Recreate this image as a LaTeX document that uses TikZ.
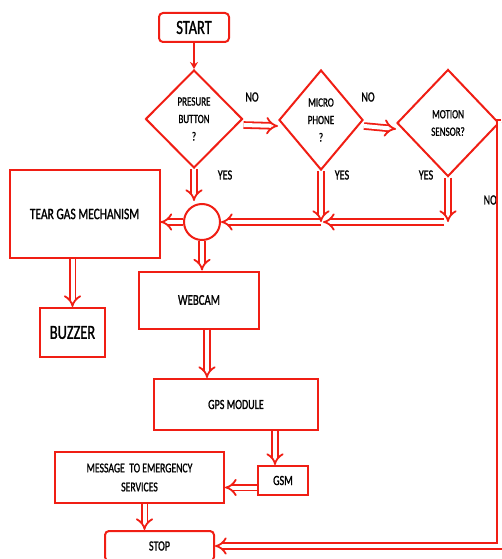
\documentclass[tikz,border=0pt]{standalone}
\usepackage{fontspec}
\setmainfont{Carlito}[FakeStretch=0.72,FakeBold=1.2]
\usetikzlibrary{shapes.geometric,arrows.meta}
\definecolor{mred}{RGB}{240,30,20}
\begin{document}
\begin{tikzpicture}[x=1pt,y=-1pt,
  box/.style={draw=mred, line width=2pt, rectangle, inner sep=0pt, align=center, text=black},
  rbox/.style={box, rounded corners=4pt},
  dia/.style={draw=mred, line width=2pt, diamond, inner sep=0pt, align=center, text=black,
              font=\fontsize{12.5}{17.5}\selectfont},
  dar/.style={draw=mred, line width=1.8pt, double=white, double distance=4pt, -{Implies}},
  sar/.style={draw=mred, line width=2.4pt, -{Stealth[length=7pt,width=8pt]}},
  lbl/.style={font=\fontsize{14}{16}\selectfont, text=black, inner sep=0pt}
]
\useasboundingbox (0,0) rectangle (502,559);

% nodes
\node[rbox, minimum width=70pt, minimum height=29pt, font=\fontsize{20}{22}\selectfont] (start) at (194,27.5) {START};
\node[dia, minimum width=97pt, minimum height=98pt] (pb) at (194,119) {PRESURE\\BUTTON\\?};
\node[dia, minimum width=84pt, minimum height=100pt] (mic) at (321,120) {MICRO\\PHONE\\?};
\node[dia, minimum width=102pt, minimum height=107pt] (mot) at (448,123) {MOTION\\SENSOR?};
\node[draw=mred, line width=2pt, circle, minimum size=36pt, inner sep=0pt] (circ) at (202,222) {};
\node[box, minimum width=150pt, minimum height=88pt, font=\fontsize{16}{18}\selectfont] (tear) at (84.5,214) {TEAR GAS MECHANISM};
\node[box, minimum width=65pt, minimum height=49pt, font=\fontsize{20}{22}\selectfont] (buzz) at (72.5,332.5) {BUZZER};
\node[box, minimum width=120pt, minimum height=57pt, font=\fontsize{15}{17}\selectfont] (web) at (199,300) {WEBCAM};
\node[box, minimum width=164pt, minimum height=51pt, font=\fontsize{14}{16}\selectfont] (gps) at (236,404.5) {GPS MODULE};
\node[box, minimum width=50pt, minimum height=29pt, font=\fontsize{14}{16}\selectfont] (gsm) at (283,480.5) {GSM};
\node[box, minimum width=169pt, minimum height=51pt, font=\fontsize{13.5}{19}\selectfont] (msg) at (139.5,477.5) {MESSAGE\ \ TO EMERGENCY\\SERVICES};
\node[rbox, minimum width=109pt, minimum height=30pt, font=\fontsize{14}{16}\selectfont] (stop) at (159.5,546) {STOP};

% labels
\node[lbl] (no1) at (252,97) {NO};
\node[lbl] (no2) at (368,97) {NO};
\node[lbl] (yes1) at (225,175) {YES};
\node[lbl] (yes2) at (342,175) {YES};
\node[lbl] (yes3) at (426,175) {YES};
\node[lbl, anchor=east] (no3) at (497,200) {NO};

% junctions
\coordinate (j1) at (321,222);
\coordinate (j2) at (448,222);
\coordinate (c1) at (499.5,123);

% connectors
\draw[sar] (start.south) -- (pb.north);
\draw[dar] ([yshift=-6pt]pb.east) -- ([yshift=-6pt]mic.west);
\draw[dar] ([yshift=-6pt]mic.east) -- ([yshift=-6pt]mot.west);
\draw[dar] (pb.south) -- ([yshift=2pt]pb.south |- circ.north);
\draw[dar] ([xshift=-4pt]j2) -- ([xshift=2pt]j1);
\draw[dar] (j1) -- (circ.east);
\draw[dar] (mic.south) -- (j1);
\draw[dar] (mot.south) -- (j2);
\draw[dar] (circ.west) -- (circ.west -| tear.east);
\draw[dar] (circ.south) -- (circ.south |- web.north);
\draw[dar] (buzz.north |- tear.south) -- (buzz.north);
\draw[dar] ([xshift=8pt]web.south) -- ([xshift=8pt]web.south |- gps.north);
\draw[dar] ([xshift=-8pt]gsm.north |- gps.south) -- ([xshift=-8pt]gsm.north);
\draw[dar] ([yshift=-7pt]gsm.west) -- ([yshift=-7pt]gsm.west -| msg.east);
\draw[dar] ([xshift=5pt]msg.south) -- ([xshift=5pt]msg.south |- stop.north);
\draw[dar] (mot.east) -- (c1) -- (c1 |- stop.east) -- (stop.east);
\end{tikzpicture}
\end{document}
